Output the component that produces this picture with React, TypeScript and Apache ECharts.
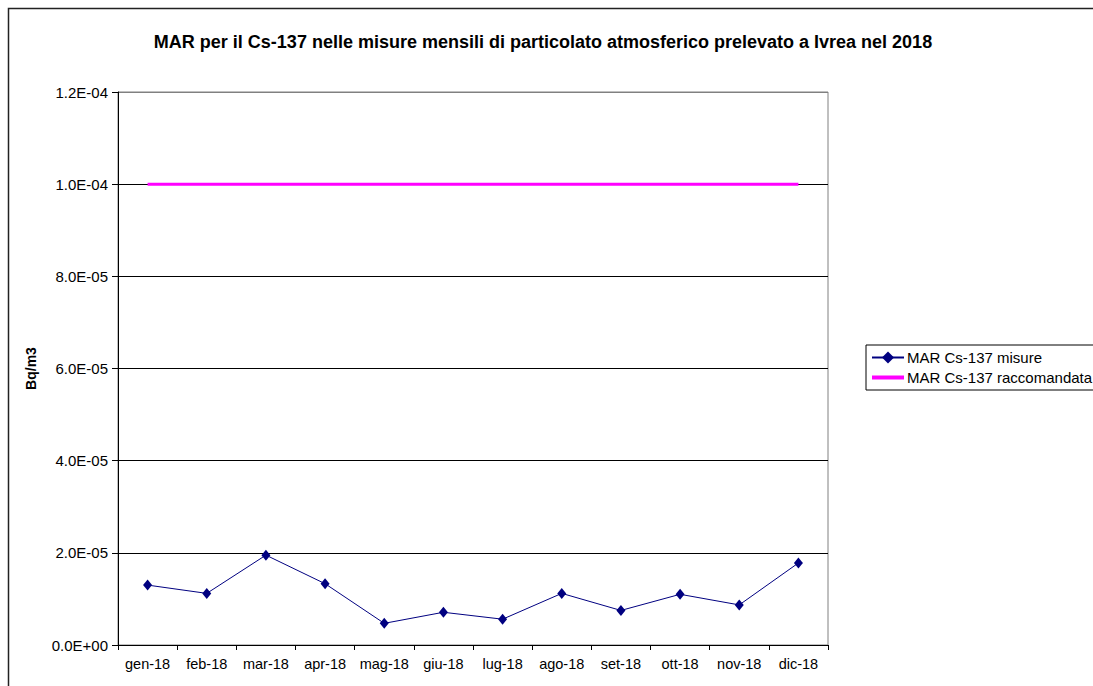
import React, { useEffect, useRef } from "react";
import * as echarts from "echarts";

const categories = ["gen-18", "feb-18", "mar-18", "apr-18", "mag-18", "giu-18", "lug-18", "ago-18", "set-18", "ott-18", "nov-18", "dic-18"];
const misure = [1.30e-5, 1.12e-5, 1.95e-5, 1.33e-5, 0.47e-5, 0.71e-5, 0.56e-5, 1.12e-5, 0.75e-5, 1.10e-5, 0.87e-5, 1.78e-5];
const raccomandata = [1e-4, 1e-4, 1e-4, 1e-4, 1e-4, 1e-4, 1e-4, 1e-4, 1e-4, 1e-4, 1e-4, 1e-4];
const seriesNames = ["MAR Cs-137 misure", "MAR Cs-137 raccomandata"];
const titleText = "MAR per il Cs-137 nelle misure mensili di particolato atmosferico prelevato a Ivrea nel 2018";
const yAxisName = "Bq/m3";

const FONT = '"Liberation Sans", Arial, sans-serif';

function sci(v: number): string {
  if (Math.abs(v) < 1e-12) return "0.0E+00";
  const [m, e] = v.toExponential(1).split("e");
  const n = parseInt(e, 10);
  return m + "E" + (n < 0 ? "-" : "+") + String(Math.abs(n)).padStart(2, "0");
}

export default function App() {
  const ref = useRef<HTMLDivElement>(null);
  useEffect(() => {
    if (!ref.current) return;
    const chart = echarts.init(ref.current, undefined, { renderer: "svg" });
    chart.setOption({
      animation: false,
      backgroundColor: "#ffffff",
      textStyle: { fontFamily: FONT },
      title: {
        text: titleText,
        left: 538,
        textAlign: "center",
        top: 28,
        textStyle: { fontFamily: FONT, fontWeight: "bold", fontSize: 18, color: "#000" },
      },
      graphic: [
        {
          type: "rect",
          shape: { x: 8.5, y: 8.5, width: 1200, height: 800 },
          style: { fill: "none", stroke: "#222", lineWidth: 1.5 },
          silent: true,
          z: -1,
        },
      ],
      legend: {
        orient: "vertical",
        left: 866,
        top: 345,
        padding: [5, 5, 5, 4],
        itemGap: 5,
        itemWidth: 32,
        itemHeight: 15,
        borderColor: "#000",
        borderWidth: 1,
        textStyle: { fontFamily: FONT, fontSize: 15, color: "#000", padding: [0, 0, 0, -2] },
        data: [
          { name: seriesNames[0], itemStyle: { color: "#000080" } },
          {
            name: seriesNames[1],
            itemStyle: { color: "transparent", borderColor: "transparent", borderWidth: 0, opacity: 0 },
            lineStyle: { color: "#FF00FF", width: 4 },
          },
        ],
      },
      grid: {
        left: 118,
        right: 265,
        top: 92,
        bottom: 41,
        show: true,
        borderColor: "#808080",
        borderWidth: 1,
        backgroundColor: "transparent",
      },
      xAxis: {
        type: "category",
        data: categories,
        boundaryGap: true,
        axisLine: { lineStyle: { color: "#000", width: 1 } },
        axisTick: { show: true, length: 5, alignWithLabel: false, lineStyle: { color: "#000" } },
        axisLabel: { fontFamily: FONT, fontSize: 14.5, color: "#000", margin: 11, interval: 0 },
        splitLine: { show: false },
      },
      yAxis: {
        type: "value",
        min: 0,
        max: 1.2e-4,
        interval: 2e-5,
        name: yAxisName,
        nameLocation: "middle",
        nameGap: 80,
        nameTextStyle: { fontFamily: FONT, fontWeight: "bold", fontSize: 14, color: "#000" },
        axisLine: { show: true, lineStyle: { color: "#000", width: 1 } },
        axisTick: { show: true, length: 6, lineStyle: { color: "#000" } },
        axisLabel: { fontFamily: FONT, fontSize: 15, color: "#000", margin: 10, formatter: (v: number) => sci(v) },
        splitLine: {
          show: true,
          lineStyle: { color: ["#000", "#000", "#000", "#000", "#000", "#000", "#808080"], width: 1 },
        },
      },
      series: [
        {
          name: seriesNames[0],
          type: "line",
          data: misure,
          symbol: "diamond",
          symbolSize: [9, 11],
          itemStyle: { color: "#000080" },
          lineStyle: { color: "#000080", width: 1 },
          z: 3,
        },
        {
          name: seriesNames[1],
          type: "line",
          data: raccomandata,
          symbol: "none",
          showSymbol: false,
          itemStyle: { color: "#FF00FF" },
          lineStyle: { color: "#FF00FF", width: 3 },
          z: 2,
        },
      ],
    });
    return () => chart.dispose();
  }, []);
  return (
    <div
      ref={ref}
      style={{ position: "fixed", left: 0, top: 0, width: 1093, height: 686, background: "#fff" }}
    />
  );
}
